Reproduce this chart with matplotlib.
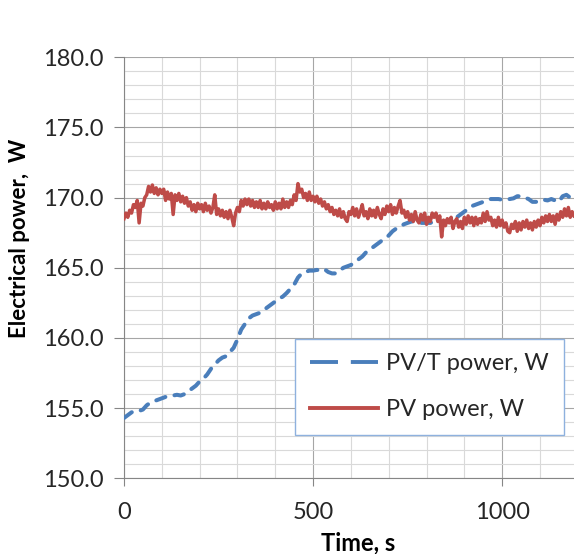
import matplotlib
matplotlib.use("Agg")
import matplotlib.pyplot as plt
from matplotlib.lines import Line2D
import numpy as np

plt.rcParams['font.family'] = ['Lato', 'DejaVu Sans']

time_pvt = list(range(0, 1200, 10))
time_pv = list(range(0, 1195, 5))

pvt_power = [
    154.3, 154.5, 154.7, 154.8, 154.8, 154.9, 155.2, 155.4, 155.5, 155.6,
    155.7, 155.8, 155.85, 155.9, 155.95, 155.9, 156.0, 156.2, 156.4, 156.6,
    156.9, 157.1, 157.4, 157.8, 158.1, 158.4, 158.6, 158.7, 159.0, 159.3,
    159.9, 160.6, 161.0, 161.4, 161.6, 161.7, 161.8, 162.0, 162.2, 162.4,
    162.6, 162.8, 162.95, 163.2, 163.5, 163.8, 164.3, 164.6, 164.7, 164.8,
    164.8, 164.85, 164.8, 164.9, 164.7, 164.6, 164.6, 164.8, 165.0, 165.1,
    165.2, 165.4, 165.6, 165.8, 166.1, 166.3, 166.5, 166.7, 166.9, 167.1,
    167.3, 167.6, 167.8, 167.9, 168.1, 168.2, 168.3, 168.3, 168.2, 168.2,
    168.2, 168.2, 168.3, 168.3, 168.3, 168.3, 168.4, 168.4, 168.6, 168.8,
    169.0, 169.2, 169.4, 169.5, 169.6, 169.7, 169.8, 169.9, 169.9, 169.9,
    169.85, 169.85, 169.9, 169.95, 170.1, 170.1, 170.0, 169.9, 169.7, 169.7,
    169.8, 169.85, 169.8, 169.9, 169.8, 169.7, 170.1, 170.2, 170.0, 170.1,
]

pv_power = [
    168.5, 168.9, 168.6, 169.1, 168.9, 169.5, 169.3, 169.8, 168.2, 169.6,
    169.4, 170.0, 170.2, 170.8, 170.4, 170.9, 170.3, 170.7, 170.2, 170.6,
    170.3, 170.6, 169.8, 170.4, 169.9, 170.3, 168.8, 170.2, 169.8, 170.3,
    169.7, 170.1, 169.6, 170.0, 169.4, 169.7, 169.1, 169.5, 169.0, 169.6,
    169.2, 169.5, 169.0, 169.6, 169.1, 169.4, 168.9, 169.3, 170.2, 168.8,
    169.2, 168.7, 169.1, 168.6, 169.0, 168.5, 169.1, 168.6, 168.0, 168.9,
    169.3, 169.0, 169.8, 169.4, 169.9, 169.5, 169.9, 169.4, 169.8, 169.3,
    169.7, 169.3, 169.8, 169.2, 169.6, 169.2, 169.7, 169.3, 169.5, 169.1,
    169.7, 169.2, 169.6, 169.2, 169.9, 169.3, 169.7, 169.3, 169.8, 169.5,
    170.2, 169.8, 171.0, 170.4, 170.6, 170.0, 170.3, 169.8, 170.4, 169.8,
    170.1, 169.7, 170.1, 169.6, 169.9, 169.4, 169.7, 169.2, 169.5, 169.0,
    169.3, 168.8, 169.1, 168.7, 169.2, 168.6, 169.0, 168.5, 168.3, 169.0,
    168.8, 169.3, 168.7, 169.2, 168.6, 169.0, 169.5, 168.7, 169.0, 168.5,
    169.2, 168.7, 169.1, 168.6, 169.3, 168.8, 168.5, 169.2, 168.8, 169.4,
    169.0, 169.5, 168.8, 169.3, 168.9, 169.4, 169.8, 168.9, 169.1, 168.6,
    169.0, 168.4, 168.8, 168.3, 169.0, 168.4, 168.2, 168.8, 168.4, 168.9,
    168.1, 168.6, 168.3, 168.9, 168.6, 168.9, 168.3, 168.7, 167.2, 168.4,
    168.0, 168.5, 168.2, 168.6, 167.8, 168.3, 168.5, 167.9, 168.3, 167.8,
    168.6, 168.1, 168.7, 168.2, 168.6, 168.0, 168.6, 168.1, 168.5, 168.2,
    168.9, 168.3, 169.0, 168.4, 168.6, 168.0, 168.4, 167.9, 168.6, 168.0,
    168.4, 167.9, 168.2, 167.6, 167.5, 168.1, 167.8, 168.3, 167.6, 168.2,
    167.7, 168.3, 167.9, 168.4, 167.8, 168.2, 167.7, 168.3, 167.9, 168.4,
    168.0, 168.6, 168.2, 168.7, 168.3, 168.8, 168.3, 168.7, 168.1, 168.8,
    168.4, 169.0, 168.6, 169.2, 168.7, 169.3, 168.6, 169.0, 168.7,
]

x_ticks = [0, 500, 1000]
y_ticks = [150.0, 155.0, 160.0, 165.0, 170.0, 175.0, 180.0]
series_labels = ["PV/T power, W", "PV power, W"]

W, H = 574, 554
fig = plt.figure(figsize=(W / 100, H / 100), dpi=100)
fig.patch.set_facecolor('white')
ax = fig.add_axes([124 / W, 1 - 478.3 / H, (W - 124) / W, (478.3 - 57.3) / H])

blue = '#4a7ebb'
red = '#be4b48'

ax.plot(time_pvt, pvt_power, color=blue, lw=2.9, dashes=(2.4, 2.3),
        dash_capstyle='round', zorder=3)
ax.plot(time_pv, pv_power, color=red, lw=2.5, solid_joinstyle='round', zorder=4)

ax.set_xlim(0, 1190)
ax.set_ylim(150, 180)
ax.set_xticks(x_ticks)
ax.set_xticks(np.arange(100, 1200, 100), minor=True)
ax.set_yticks(y_ticks)
ax.set_yticks(np.arange(150, 181, 1), minor=True)
ax.set_yticklabels([f"{v:.1f}" for v in y_ticks])
ax.set_xticklabels([str(v) for v in x_ticks])

ax.grid(which='major', color='#a6a6a6', lw=0.8, zorder=1)
ax.grid(which='minor', color='#d9d9d9', lw=0.8, zorder=0)
ax.set_axisbelow(True)

for s in ['top', 'right']:
    ax.spines[s].set_visible(False)
for s in ['left', 'bottom']:
    ax.spines[s].set_color('#868686')
    ax.spines[s].set_linewidth(0.8)

ax.tick_params(which='major', axis='both', colors='#868686', labelcolor='#262626',
               labelsize=17, width=0.8)
ax.tick_params(which='major', axis='y', length=7, pad=8)
ax.tick_params(which='major', axis='x', length=6, pad=11)
ax.tick_params(which='minor', length=0)

fig.text(358 / W, 1 - 543 / H, "Time, s", fontsize=17, fontweight='bold',
         ha='center', va='center', color='black')
fig.text(20 / W, 1 - 238 / H, "Electrical power,  W", fontsize=16, fontweight='bold',
         rotation=90, ha='center', va='center', color='black')

handles = [
    Line2D([0], [0], color=blue, lw=2.8, dashes=(7.2, 3.3), dash_capstyle='butt'),
    Line2D([0], [0], color=red, lw=2.8),
]
leg = ax.legend(handles, series_labels, loc='upper left',
                bbox_to_anchor=((295 - 124) / (W - 124), 1 - (338.5 - 57.3) / (478.3 - 57.3)),
                fontsize=17, frameon=True, fancybox=False, handlelength=2.9,
                handletextpad=0.35, labelspacing=1.05, borderpad=0.62,
                borderaxespad=0.0)
leg.get_frame().set_edgecolor('#8eb1de')
leg.get_frame().set_linewidth(1.0)
leg.get_frame().set_alpha(1)
for t in leg.get_texts():
    t.set_color('#262626')

fig.savefig('out.png', dpi=100, facecolor='white')
